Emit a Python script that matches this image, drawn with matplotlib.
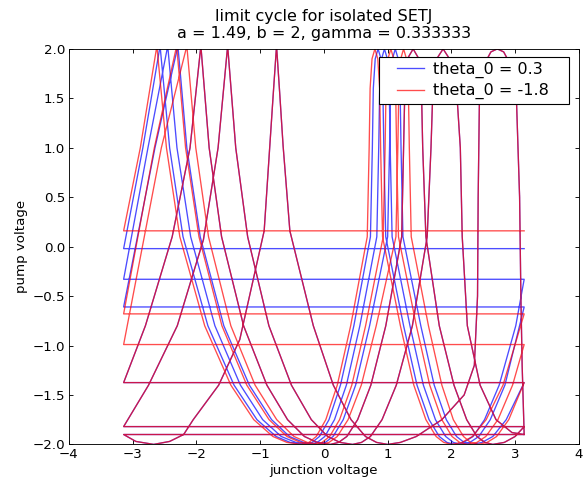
import matplotlib
matplotlib.use('Agg')
import matplotlib.pyplot as plt
from matplotlib.legend_handler import HandlerLine2D

# wrap edge of the junction voltage axis
PI = 3.1416

# ---- periods (one period = -pi .. pi) ----
# blue, theta_0 = 0.3
b_start_x = [PI]
b_start_y = [-0.02]
b1_x = [-PI, -2.84, -2.57, -2.42, -2.21, -1.82, -1.41, -1.05, -0.75, -0.53, -0.30, -0.185, -0.07, 0.08, 0.26, 0.47,
        0.73, 0.76, 0.775, 0.805, 0.85, 0.895, 0.925, 0.94, 0.97,
        1.25, 1.46, 1.65, 1.81, 1.93, 2.05, 2.19, 2.34, 2.52, 2.75, 3.01, PI]
b1_y = [-0.02, 1.0, 2.03, 1.0, 0.1, -0.8, -1.4, -1.75, -1.92, -1.98, -2.0, -1.98, -1.92, -1.75, -1.4, -0.8,
        0.1, 1.0, 1.6, 1.9, 2.0, 1.9, 1.6, 1.0, 0.1,
        -0.8, -1.4, -1.75, -1.92, -1.98, -2.0, -1.98, -1.92, -1.75, -1.4, -0.8, -0.33]
b2_x = [-PI, -2.76, -2.45, -2.305, -2.09, -1.71, -1.31, -0.96, -0.67, -0.44, -0.22, -0.103, 0.014, 0.166, 0.353,
        0.564, 0.83, 0.86, 0.875, 0.905, 0.95, 0.995, 1.025, 1.04, 1.07,
        1.35, 1.56, 1.75, 1.91, 2.03, 2.15, 2.29, 2.43, 2.61, 2.84, PI]
b2_y = [-0.33, 1.0, 2.03, 1.0, 0.1, -0.8, -1.4, -1.75, -1.92, -1.98, -2.0, -1.98, -1.92, -1.75, -1.4,
        -0.8, 0.1, 1.0, 1.6, 1.9, 2.0, 1.9, 1.6, 1.0, 0.1,
        -0.8, -1.4, -1.75, -1.92, -1.98, -2.0, -1.98, -1.92, -1.75, -1.4, -0.61]
b3_x = [-PI, -2.65, -2.29, -2.15, -1.94, -1.57, -1.17, -0.82, -0.54, -0.32, -0.10, 0.022, 0.144, 0.303, 0.498,
        0.717, 1.00, 1.03, 1.045, 1.075, 1.12, 1.165, 1.195, 1.21, 1.24,
        1.52, 1.73, 1.92, 2.08, 2.20, 2.32, 2.48, 2.65, 2.86, PI]
b3_y = [-0.61, 1.0, 2.03, 1.0, 0.1, -0.8, -1.4, -1.75, -1.92, -1.98, -2.0, -1.98, -1.92, -1.75, -1.4,
        -0.8, 0.1, 1.0, 1.6, 1.9, 2.0, 1.9, 1.6, 1.0, 0.1,
        -0.8, -1.4, -1.75, -1.92, -1.98, -2.0, -1.98, -1.92, -1.75, -1.375]

# red, theta_0 = -1.8
r_start_x = [PI]
r_start_y = [0.16]
r1_x = [-PI, -2.88, -2.62, -2.47, -2.26, -1.87, -1.46, -1.10, -0.80, -0.58, -0.35, -0.235, -0.12, 0.03, 0.21,
        0.42, 0.68, 0.71, 0.725, 0.755, 0.80, 0.845, 0.875, 0.89, 0.92,
        1.20, 1.41, 1.60, 1.76, 1.88, 2.00, 2.165, 2.33, 2.545, 2.81, PI]
r1_y = [0.16, 1.0, 2.03, 1.0, 0.1, -0.8, -1.4, -1.75, -1.92, -1.98, -2.0, -1.98, -1.92, -1.75, -1.4,
        -0.8, 0.1, 1.0, 1.6, 1.9, 2.0, 1.9, 1.6, 1.0, 0.1,
        -0.8, -1.4, -1.75, -1.92, -1.98, -2.0, -1.98, -1.92, -1.75, -1.4, -0.68]
r2_x = [-PI, -2.66, -2.31, -2.17, -1.96, -1.60, -1.21, -0.86, -0.58, -0.37, -0.15, -0.03, 0.09, 0.246, 0.438,
        0.654, 0.93, 0.96, 0.975, 1.005, 1.05, 1.095, 1.125, 1.14, 1.17,
        1.45, 1.66, 1.85, 2.01, 2.13, 2.25, 2.40, 2.54, 2.73, 2.96, PI]
r2_y = [-0.68, 1.0, 2.03, 1.0, 0.1, -0.8, -1.4, -1.75, -1.92, -1.98, -2.0, -1.98, -1.92, -1.75, -1.4,
        -0.8, 0.1, 1.0, 1.6, 1.9, 2.0, 1.9, 1.6, 1.0, 0.1,
        -0.8, -1.4, -1.75, -1.92, -1.98, -2.0, -1.98, -1.92, -1.75, -1.4, -0.99]
r3_x = [-PI, -2.55, -2.15, -2.01, -1.81, -1.46, -1.08, -0.74, -0.47, -0.26, -0.05, 0.08, 0.21, 0.379, 0.587,
        0.821, 1.13, 1.16, 1.175, 1.205, 1.25, 1.295, 1.325, 1.34, 1.37,
        1.64, 1.85, 2.03, 2.19, 2.30, 2.42, 2.56, 2.71, 2.90, PI]
r3_y = [-0.99, 1.0, 2.03, 1.0, 0.1, -0.8, -1.4, -1.75, -1.92, -1.98, -2.0, -1.98, -1.92, -1.75, -1.4,
        -0.8, 0.1, 1.0, 1.6, 1.9, 2.0, 1.9, 1.6, 1.0, 0.1,
        -0.8, -1.4, -1.75, -1.92, -1.98, -2.0, -1.98, -1.92, -1.75, -1.375]

# both runs end up on the same path from here on
p1_x = [-PI, -2.80, -2.38, -2.10, -1.93, -1.80, -1.605, -1.26, -0.895, -0.57, -0.306, -0.103, 0.10, 0.23, 0.36,
        0.529, 0.737, 0.971, 1.22, 1.25, 1.27, 1.31, 1.40, 1.49, 1.53, 1.55, 1.60,
        1.81, 2.04, 2.24, 2.40, 2.525, 2.65, 2.83, 3.00, PI]
p1_y = [-1.375, -0.8, 0.1, 1.0, 2.03, 1.0, 0.1, -0.8, -1.4, -1.75, -1.92, -1.98, -2.0, -1.98, -1.92,
        -1.75, -1.4, -0.8, 0.1, 1.0, 1.6, 1.9, 2.0, 1.9, 1.6, 1.0, 0.1,
        -0.8, -1.4, -1.75, -1.92, -1.98, -2.0, -1.98, -1.92, -1.82]
p2_x = [-PI, -2.75, -2.30, -1.89, -1.66, -1.51, -1.383, -1.196, -0.863, -0.51, -0.197, 0.058, 0.254, 0.45, 0.59,
        0.73, 0.912, 1.136, 1.388, 1.62, 1.68, 1.71, 1.77, 1.87, 1.97, 2.08, 2.14, 2.17,
        2.25, 2.45, 2.70, 2.95, PI]
p2_y = [-1.82, -1.4, -0.8, 0.07, 1.0, 2.03, 1.0, 0.1, -0.8, -1.4, -1.75, -1.92, -1.98, -2.0, -1.98,
        -1.92, -1.75, -1.4, -0.8, 0.1, 1.0, 1.6, 1.9, 2.0, 1.9, 1.6, 1.0, 0.1,
        -0.8, -1.4, -1.75, -1.88, -1.90]
lc_x = [-PI, -2.95, -2.67, -2.42, -2.20, -2.05, -1.65, -1.32, -0.937, -0.849, -0.796, -0.743, -0.691, -0.64,
        -0.534, -0.166, 0.147, 0.426, 0.652, 0.826, 1.0, 1.2, 1.45, 1.85, 2.2, 2.36, 2.41, 2.42, 2.44, 2.52,
        2.62, 2.72, 2.82, 2.92, 3.02, 3.07, 3.09, 3.11, PI]
lc_y = [-1.90, -1.97, -2.0, -1.97, -1.90, -1.75, -1.4, -0.94, 0.16, 1.02, 1.53, 2.03, 1.53, 1.02,
        0.16, -0.8, -1.4, -1.75, -1.92, -1.98, -2.0, -1.98, -1.92, -1.75, -1.5, -1.2, -0.5, 0.5, 1.5, 1.85,
        1.97, 2.0, 1.97, 1.85, 1.5, 0.5, -0.5, -1.2, -1.90]

blue_parts = [(b_start_x, b_start_y), (b1_x, b1_y), (b2_x, b2_y), (b3_x, b3_y),
              (p1_x, p1_y), (p2_x, p2_y), (lc_x, lc_y)]
red_parts = [(r_start_x, r_start_y), (r1_x, r1_y), (r2_x, r2_y), (r3_x, r3_y),
             (p1_x, p1_y), (p2_x, p2_y), (lc_x, lc_y)]


def join(parts):
    xs, ys = [], []
    for px, py in parts:
        assert len(px) == len(py), (len(px), len(py))
        xs += px
        ys += py
    return xs, ys


blue_x, blue_y = join(blue_parts)
red_x, red_y = join(red_parts)

plt.rcParams['font.family'] = ['DejaVu Sans']
plt.rcParams['font.size'] = 12

fig = plt.figure(figsize=(7.35, 6.0125), dpi=80)
ax = fig.add_axes([0.1172, 0.0761, 0.8673, 0.8222])

ax.plot(blue_x, blue_y, color='b', alpha=0.7, linewidth=1.2, label='theta_0 = 0.3')
ax.plot(red_x, red_y, color='r', alpha=0.7, linewidth=1.2, label='theta_0 = -1.8')

ax.set_xlim(-4, 4)
ax.set_ylim(-2, 2)
ax.set_xticks([-4, -3, -2, -1, 0, 1, 2, 3, 4])
ax.set_yticks([-2.0, -1.5, -1.0, -0.5, 0.0, 0.5, 1.0, 1.5, 2.0])
ax.set_yticklabels(['\u22122.0', '\u22121.5', '\u22121.0', '\u22120.5', '0.0', '0.5', '1.0', '1.5', '2.0'])
ax.tick_params(direction='in', top=True, right=True, length=4, labelsize=12)

ax.set_title('limit cycle for isolated SETJ\na = 1.49, b = 2, gamma = 0.333333', fontsize=14.4, pad=9.5)
ax.set_xlabel('junction voltage', fontsize=12, labelpad=2)
ax.set_ylabel('pump voltage', fontsize=12)

# wide box with a short handle, like the old legend
ax.legend(loc='upper left', bbox_to_anchor=(0.608, 0.5, 0.3725, 0.4795), mode='expand',
          borderaxespad=0, fontsize=14.4, numpoints=2, handlelength=3.4, handletextpad=-0.29,
          borderpad=0.28, labelspacing=0.34, fancybox=False, framealpha=1.0, edgecolor='black',
          handler_map={plt.Line2D: HandlerLine2D(marker_pad=0.85)})

fig.savefig('out.png', dpi=80, facecolor='white')
